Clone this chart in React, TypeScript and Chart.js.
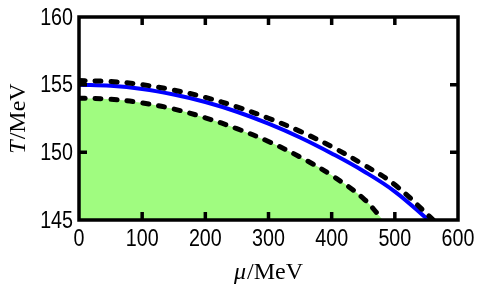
import React, { useEffect, useRef } from 'react';
import { Chart, registerables } from 'chart.js';

Chart.register(...registerables);

// Chemical potential (MeV) and temperature (MeV)
const muBlue = [0, 50, 100, 150, 200, 250, 300, 350, 400, 450, 500, 553];
const tBlue = [155.0, 154.92, 154.68, 154.27, 153.72, 153.0, 152.12, 151.1, 149.92, 148.62, 147.1, 145.0];

const muUpper = [0, 50, 100, 150, 200, 250, 300, 350, 400, 450, 500, 561];
const tUpper = [155.3, 155.23, 155.0, 154.6, 154.06, 153.36, 152.52, 151.55, 150.42, 149.1, 147.6, 145.0];

const muLower = [0, 50, 100, 150, 200, 250, 300, 350, 400, 450, 481];
const tLower = [154.0, 153.92, 153.65, 153.2, 152.55, 151.75, 150.8, 149.65, 148.3, 146.6, 145.0];

const xTicks = [0, 100, 200, 300, 400, 500, 600];
const yTicks = [145, 150, 155, 160];

const W = 487;
const H = 299;

const pts = (xs: number[], ys: number[]) => xs.map((x, i) => ({ x, y: ys[i] }));

const framePlugin = {
  id: 'frame',
  afterDraw(chart: any) {
    const { ctx, chartArea } = chart;
    const { left, right, top, bottom } = chartArea;
    const xs = chart.scales.x;
    const ys = chart.scales.y;
    ctx.save();
    ctx.strokeStyle = '#000';
    ctx.lineWidth = 3.5;
    ctx.lineCap = 'butt';
    const tl = 8;
    ctx.beginPath();
    xTicks.slice(1, -1).forEach((v) => {
      const px = xs.getPixelForValue(v);
      ctx.moveTo(px, bottom);
      ctx.lineTo(px, bottom - tl);
      ctx.moveTo(px, top);
      ctx.lineTo(px, top + tl);
    });
    yTicks.slice(1, -1).forEach((v) => {
      const py = ys.getPixelForValue(v);
      ctx.moveTo(left, py);
      ctx.lineTo(left + tl, py);
      ctx.moveTo(right, py);
      ctx.lineTo(right - tl, py);
    });
    ctx.stroke();
    ctx.lineJoin = 'miter';
    ctx.strokeRect(left, top, right - left, bottom - top);

    // tick labels (condensed sans)
    ctx.fillStyle = '#000';
    ctx.font = '24px "Liberation Sans", Arial, sans-serif';
    ctx.textBaseline = 'middle';
    const sx = 0.82;
    const drawNum = (s: string, x: number, y: number, align: 'left' | 'center' | 'right') => {
      ctx.save();
      ctx.translate(x, y);
      ctx.scale(sx, 1);
      ctx.textAlign = align;
      ctx.fillText(s, 0, 0);
      ctx.restore();
    };
    yTicks.forEach((v) => {
      drawNum(String(v), left - 6, ys.getPixelForValue(v) + 1, 'right');
    });
    xTicks.forEach((v) => {
      drawNum(String(v), xs.getPixelForValue(v), bottom + 19, 'center');
    });

    // axis titles
    const fs = 24;
    const italic = `italic ${fs}px "Liberation Serif", "DejaVu Serif", serif`;
    const normal = `${fs}px "Liberation Serif", "DejaVu Serif", serif`;
    const drawTitle = (a: string, b: string, cx: number, cy: number, rot: number) => {
      ctx.save();
      ctx.translate(cx, cy);
      ctx.rotate(rot);
      ctx.font = italic;
      const wa = ctx.measureText(a).width;
      ctx.font = normal;
      const wb = ctx.measureText(b).width;
      const start = -(wa + wb + 1) / 2;
      ctx.textAlign = 'left';
      ctx.font = italic;
      ctx.fillText(a, start, 0);
      ctx.font = normal;
      ctx.fillText(b, start + wa + 1, 0);
      ctx.restore();
    };
    drawTitle('μ', '/MeV', (left + right) / 2, 273, 0);
    drawTitle('T', '/MeV', 19, (top + bottom) / 2, -Math.PI / 2);
    ctx.restore();
  },
};

export default function App() {
  const ref = useRef<HTMLCanvasElement | null>(null);
  useEffect(() => {
    document.body.style.margin = '0';
    if (!ref.current) return;
    const dash = [6, 10];
    const chart = new Chart(ref.current, {
      type: 'line',
      data: {
        datasets: [
          {
            label: 'lower',
            data: pts(muLower, tLower),
            borderColor: '#000',
            borderWidth: 5,
            borderDash: dash,
            borderCapStyle: 'round',
            backgroundColor: '#a0fc80',
            fill: 'start',
            pointRadius: 0,
            tension: 0.4,
            order: 3,
          },
          {
            label: 'central',
            data: pts(muBlue, tBlue),
            borderColor: '#0000ff',
            borderWidth: 4,
            fill: false,
            pointRadius: 0,
            tension: 0.4,
            order: 2,
          },
          {
            label: 'upper',
            data: pts(muUpper, tUpper),
            borderColor: '#000',
            borderWidth: 5,
            borderDash: dash,
            borderCapStyle: 'round',
            fill: false,
            pointRadius: 0,
            tension: 0.4,
            order: 1,
          },
        ],
      },
      options: {
        animation: false,
        responsive: true,
        maintainAspectRatio: false,
        layout: { padding: { top: 17, right: 29, left: 0, bottom: 0 } },
        plugins: { legend: { display: false }, tooltip: { enabled: false }, title: { display: false } },
        scales: {
          x: {
            type: 'linear',
            min: 0,
            max: 600,
            afterBuildTicks: (s: any) => {
              s.ticks = xTicks.map((v) => ({ value: v }));
            },
            afterFit: (s: any) => {
              s.height = 79;
            },
            ticks: { display: false },
            grid: { display: false, drawTicks: false },
            border: { display: false },
          },
          y: {
            type: 'linear',
            min: 145,
            max: 160,
            afterBuildTicks: (s: any) => {
              s.ticks = yTicks.map((v) => ({ value: v }));
            },
            afterFit: (s: any) => {
              s.width = 79;
            },
            ticks: { display: false },
            grid: { display: false, drawTicks: false },
            border: { display: false },
          },
        },
      },
      plugins: [framePlugin],
    } as any);
    return () => chart.destroy();
  }, []);
  return (
    <div style={{ position: 'fixed', left: 0, top: 0, width: W, height: H, background: '#fff' }}>
      <canvas ref={ref} />
    </div>
  );
}
